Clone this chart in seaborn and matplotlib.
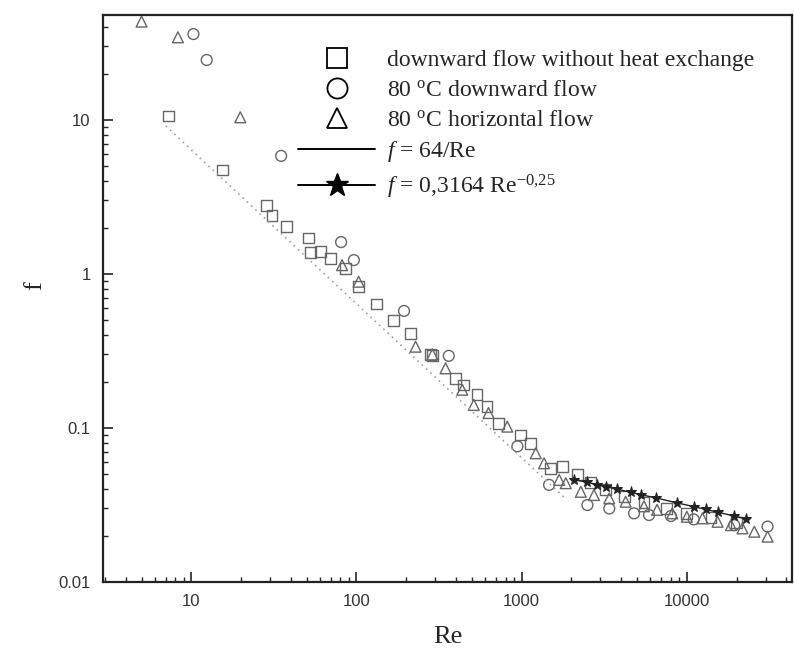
import matplotlib
matplotlib.use("Agg")
import matplotlib.pyplot as plt
import seaborn as sns
import pandas as pd
from matplotlib.lines import Line2D
from matplotlib.ticker import LogLocator, FixedLocator, FixedFormatter, NullFormatter

# ---- data ----
sq_re = [7.3, 15.5, 28.4, 30.8, 37.5, 51.4, 52.6, 60.5, 69.5, 85.7, 103, 132, 168, 212,
         280, 288, 398, 447, 537, 616, 728, 986, 1135, 1500, 1766, 2177,
         2600, 3200, 4200, 5500, 7500, 10000, 14000, 20000]
sq_f = [10.6, 4.73, 2.78, 2.41, 2.03, 1.71, 1.37, 1.40, 1.26, 1.09, 0.83, 0.638, 0.497, 0.408,
        0.30, 0.294, 0.21, 0.19, 0.164, 0.137, 0.107, 0.090, 0.0794, 0.0547, 0.0562, 0.0496,
        0.0440, 0.0400, 0.0360, 0.0330, 0.0300, 0.0280, 0.0262, 0.0242]

ci_re = [10.3, 12.4, 35, 80.7, 96.4, 194, 362, 942, 1465, 2500, 3390, 4790, 5900,
         8000, 11000, 19350, 30800]
ci_f = [36.1, 24.5, 5.84, 1.61, 1.23, 0.575, 0.294, 0.076, 0.0427, 0.0316, 0.030, 0.0279, 0.0272,
        0.0268, 0.0255, 0.0234, 0.0229]

tr_re = [5.0, 8.3, 19.8, 81.8, 103, 228, 288, 346, 437, 513, 630, 818, 1217, 1365, 1686, 1850,
         2280, 2740, 3390, 4260, 5500, 6600, 8160, 10000, 12430, 15350, 18500, 21700, 25600, 30800]
tr_f = [43.5, 34.4, 10.4, 1.14, 0.89, 0.337, 0.30, 0.244, 0.177, 0.141, 0.125, 0.102, 0.0685, 0.059,
        0.046, 0.0438, 0.0385, 0.0367, 0.0349, 0.0332, 0.031, 0.0294, 0.0279, 0.0265, 0.0259,
        0.0246, 0.0234, 0.0223, 0.0212, 0.0197]

lam_re = [7.0, 1800.0]
lam_f = [9.14, 0.0356]

bl_re = [2075, 2500, 2877, 3228, 3800, 4575, 5260, 6460, 8770, 11060, 13030, 15350, 19350, 22800]
bl_f = [0.0462, 0.0443, 0.0429, 0.0416, 0.0400, 0.0382, 0.0369, 0.0352, 0.0326, 0.0308,
        0.0296, 0.0284, 0.0268, 0.0257]

legend_labels = ["downward flow without heat exchange",
                 r"80 $^{\mathrm{o}}$C downward flow",
                 r"80 $^{\mathrm{o}}$C horizontal flow",
                 r"$f$ = 64/Re",
                 r"$f$ = 0,3164 Re$^{\mathrm{-0{,}25}}$"]

x_ticks = [10, 100, 1000, 10000]
x_ticklabels = ["10", "100", "1000", "10000"]
y_ticks = [0.01, 0.1, 1, 10]
y_ticklabels = ["0.01", "0.1", "1", "10"]

# ---- style ----
sns.set_style("ticks")
plt.rcParams["font.family"] = ["Liberation Sans", "DejaVu Sans"]
plt.rcParams["mathtext.fontset"] = "custom"
plt.rcParams["mathtext.rm"] = "Liberation Serif"
plt.rcParams["mathtext.it"] = "Liberation Serif:italic"

fig = plt.figure(figsize=(7.94, 6.52), dpi=100)
ax = fig.add_axes([0.130, 0.1074, 0.8675, 0.8696])

mcol = "#666666"
msz = 7.8

df_lam = pd.DataFrame({"Re": lam_re, "f": lam_f})
sns.lineplot(data=df_lam, x="Re", y="f", ax=ax, color="#a0a0a0", linestyle=(0, (1, 2.5)),
             linewidth=1.2, legend=False)

for re, f, mk in [(sq_re, sq_f, "s"), (ci_re, ci_f, "o"), (tr_re, tr_f, "^")]:
    d = pd.DataFrame({"Re": re, "f": f})
    sns.scatterplot(data=d, x="Re", y="f", ax=ax, marker=mk, s=msz ** 2,
                    facecolor="none", edgecolor=mcol, linewidth=1.0, legend=False)

df_bl = pd.DataFrame({"Re": bl_re, "f": bl_f})
sns.lineplot(data=df_bl, x="Re", y="f", ax=ax, color="#222222", linewidth=1.0,
             marker="*", markersize=8, markeredgecolor="#222222", legend=False)

ax.set_xscale("log")
ax.set_yscale("log")
ax.set_xlim(2.93, 43300)
ax.set_ylim(0.01, 48)

ax.xaxis.set_major_locator(FixedLocator(x_ticks))
ax.xaxis.set_major_formatter(FixedFormatter(x_ticklabels))
ax.yaxis.set_major_locator(FixedLocator(y_ticks))
ax.yaxis.set_major_formatter(FixedFormatter(y_ticklabels))
ax.xaxis.set_minor_locator(LogLocator(base=10, subs=range(2, 10), numticks=20))
ax.yaxis.set_minor_locator(LogLocator(base=10, subs=range(2, 10), numticks=20))
ax.xaxis.set_minor_formatter(NullFormatter())
ax.yaxis.set_minor_formatter(NullFormatter())

ax.tick_params(which="major", direction="in", length=7, width=1.2, labelsize=12,
               labelcolor="#333333", top=False, right=False, pad=9)
ax.tick_params(which="minor", direction="in", length=3.5, width=1.0, top=False, right=False)
for s in ax.spines.values():
    s.set_linewidth(1.6)
    s.set_color("#222222")

ax.set_xlabel("Re", fontfamily="Liberation Serif", fontsize=19)
ax.xaxis.set_label_coords(0.5, -0.077)
ax.set_ylabel("f", fontfamily="Liberation Serif", fontsize=19)
ax.yaxis.set_label_coords(-0.083, 0.522)

ms_leg = 14.5
handles = [
    Line2D([], [], marker="s", linestyle="none", markersize=ms_leg, markerfacecolor="none",
           markeredgecolor="black", markeredgewidth=1.3),
    Line2D([], [], marker="o", linestyle="none", markersize=ms_leg, markerfacecolor="none",
           markeredgecolor="black", markeredgewidth=1.3),
    Line2D([], [], marker="^", linestyle="none", markersize=ms_leg, markerfacecolor="none",
           markeredgecolor="black", markeredgewidth=1.3),
    Line2D([], [], color="black", linewidth=1.4),
    Line2D([], [], color="black", linewidth=1.4, marker="*", markersize=17),
]
leg = ax.legend(handles, legend_labels, loc="upper left", bbox_to_anchor=(0.273, 0.951),
                frameon=True, fancybox=False, edgecolor="none", facecolor="white", framealpha=1,
                prop={"family": "Liberation Serif", "size": 17}, handlelength=3.26,
                handletextpad=0.5, labelspacing=0.35, borderpad=0.3, borderaxespad=0,
                numpoints=1)

fig.savefig("out.png", dpi=100)
